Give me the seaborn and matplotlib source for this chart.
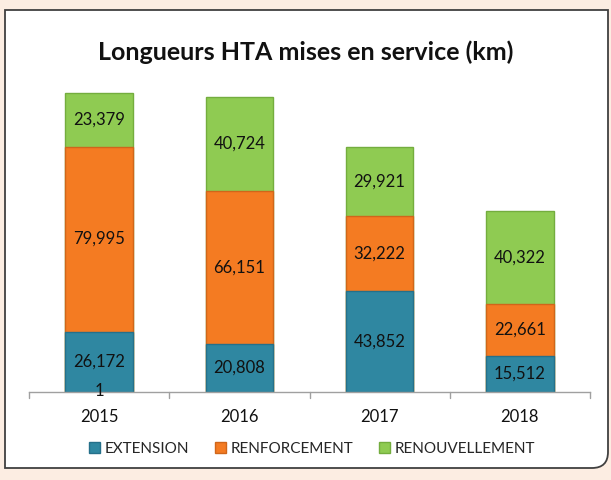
import matplotlib
matplotlib.use("Agg")
import matplotlib.pyplot as plt
from matplotlib.patches import Patch, PathPatch
from matplotlib.path import Path
import seaborn as sns
import pandas as pd
import numpy as np

years = ["2015", "2016", "2017", "2018"]
extension = [26.172, 20.808, 43.852, 15.512]
renforcement = [79.995, 66.151, 32.222, 22.661]
renouvellement = [23.379, 40.724, 29.921, 40.322]
ext_labels = ["26,172", "20,808", "43,852", "15,512"]
renf_labels = ["79,995", "66,151", "32,222", "22,661"]
renou_labels = ["23,379", "40,724", "29,921", "40,322"]
series_names = ["EXTENSION", "RENFORCEMENT", "RENOUVELLEMENT"]

sns.set_theme(style="white")
plt.rcParams['font.family'] = ['Lato', 'DejaVu Sans']

c_ext = "#2F87A1"
c_renf = "#F47B22"
c_renou = "#8FCB52"
edges = ["#25708a", "#d0661a", "#74ad3e"]

W, H = 611, 480
fig = plt.figure(figsize=(6.11, 4.8), dpi=100)
fig.patch.set_facecolor("#FCEDE2")

# panel with square corners except rounded bottom-right
x0, x1 = 5, 608
yt, yb = 10, 468
r = 16
def P(x, y):
    return (x / W, 1 - y / H)
verts = [P(x0, yt), P(x1, yt), P(x1, yb - r), P(x1, yb), P(x1 - r, yb), P(x0, yb), P(x0, yt)]
codes = [Path.MOVETO, Path.LINETO, Path.LINETO, Path.CURVE3, Path.CURVE3, Path.LINETO, Path.CLOSEPOLY]
panel = PathPatch(Path(verts, codes), transform=fig.transFigure, facecolor="white",
                  edgecolor="#404040", linewidth=1.3, zorder=-5)
fig.patches.append(panel)

ax = fig.add_axes([29/611, 1 - 392/480, 561/611, 312/480])
ax.set_facecolor("none")
ax.set_zorder(2)

df = pd.DataFrame({"year": years, "ext": extension, "renf": renforcement, "renou": renouvellement})
df["c2"] = df["ext"] + df["renf"]
df["c3"] = df["c2"] + df["renou"]

sns.barplot(data=df, x="year", y="c3", color=c_renou, width=0.48, saturation=1,
            edgecolor=edges[2], linewidth=1, ax=ax)
sns.barplot(data=df, x="year", y="c2", color=c_renf, width=0.48, saturation=1,
            edgecolor=edges[1], linewidth=1, ax=ax)
sns.barplot(data=df, x="year", y="ext", color=c_ext, width=0.48, saturation=1,
            edgecolor=edges[0], linewidth=1, ax=ax)

fs = 12
for i in range(len(years)):
    ax.text(i, extension[i] / 2, ext_labels[i], ha="center", va="center", fontsize=fs, color="#111111")
    ax.text(i, extension[i] + renforcement[i] / 2, renf_labels[i], ha="center", va="center", fontsize=fs, color="#111111")
    ax.text(i, df["c2"][i] + renouvellement[i] / 2, renou_labels[i], ha="center", va="center", fontsize=fs, color="#111111")
ax.text(0, 0.5, "1", ha="center", va="center", fontsize=fs, color="#111111")

ax.set_xlim(-0.5, 3.5)
ax.set_ylim(0, 135)
ax.set_xlabel("")
ax.set_ylabel("")
ax.set_yticks([])
for s in ["top", "right", "left"]:
    ax.spines[s].set_visible(False)
ax.spines["bottom"].set_color("#A0A0A0")
ax.spines["bottom"].set_linewidth(1)
ax.set_xticks(range(4))
ax.set_xticklabels(years, fontsize=12, color="#111111")
ax.tick_params(axis="x", length=0, pad=12)
for xv in [-0.5, 0.5, 1.5, 2.5, 3.5]:
    ax.plot([xv, xv], [0, -2.6], color="#A0A0A0", lw=1, clip_on=False)

fig.text(0.5, 1 - 52/480, "Longueurs HTA mises en service (km)", ha="center", va="center",
         fontsize=18, fontweight="bold", color="#111111")

handles = [Patch(facecolor=c_ext, edgecolor=edges[0]),
           Patch(facecolor=c_renf, edgecolor=edges[1]),
           Patch(facecolor=c_renou, edgecolor=edges[2])]
fig.legend(handles, series_names, loc="center", bbox_to_anchor=(0.511, 1 - 449/480), ncol=3,
           frameon=False, fontsize=11, handlelength=0.7, handleheight=0.7, handletextpad=0.3,
           columnspacing=1.7)

fig.savefig("out.png", dpi=100, facecolor=fig.get_facecolor())
